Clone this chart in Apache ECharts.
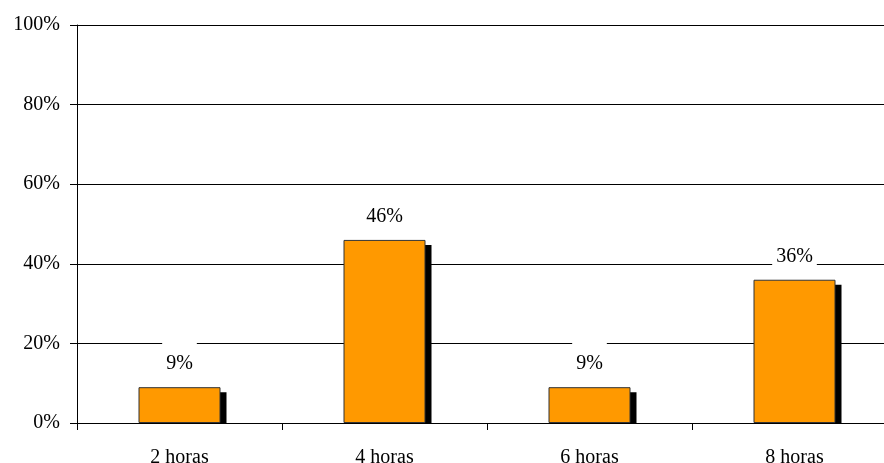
<!DOCTYPE html>
<html>
<head>
<meta charset="utf-8">
<script src="https://cdn.jsdelivr.net/npm/echarts@6/dist/echarts.min.js"></script>
<style>html,body{margin:0;padding:0;background:#fff}#c{width:884px;height:463px}</style>
</head>
<body>
<div id="c"></div>
<script>
var categories = ['2 horas', '4 horas', '6 horas', '8 horas'];
var values = [9, 46, 9, 36];
var yTicks = [0, 20, 40, 60, 80, 100];

var chart = echarts.init(document.getElementById('c'), null, {renderer: 'canvas'});
var font = 'Liberation Serif';
chart.setOption({
  animation: false,
  backgroundColor: '#fff',
  grid: {left: 77, top: 25, width: 820, height: 398, outerBoundsMode: 'none', containLabel: false},
  xAxis: {
    type: 'category',
    data: categories,
    boundaryGap: true,
    axisLine: {show: true, lineStyle: {color: '#000', width: 1}},
    axisTick: {show: true, length: 7, lineStyle: {color: '#000'}},
    axisLabel: {color: '#000', fontFamily: font, fontSize: 20, margin: 25},
    splitLine: {show: false}
  },
  yAxis: {
    type: 'value',
    min: 0, max: 100, interval: 20,
    axisLine: {show: true, lineStyle: {color: '#000', width: 1}},
    axisTick: {show: true, length: 7, inside: false, lineStyle: {color: '#000'}},
    axisLabel: {color: '#000', fontFamily: font, fontSize: 20, margin: 17,
      formatter: function (v) { return yTicks.indexOf(v) >= 0 ? v + '%' : ''; }},
    splitLine: {show: true, lineStyle: {color: '#000', width: 1}}
  },
  series: [
    {
      type: 'custom',
      z: 1,
      data: values.map(function (v, i) { return [i, v]; }),
      renderItem: function (params, api) {
        var top = api.coord([api.value(0), api.value(1)]);
        var base = api.coord([api.value(0), 0]);
        var w = api.size([1, 0])[0] * 0.4;
        return {
          type: 'rect',
          shape: {x: top[0] - w / 2 + 6, y: top[1] + 5, width: w, height: base[1] - top[1] - 5},
          style: {fill: '#000'}
        };
      }
    },
    {
      type: 'bar',
      z: 2,
      data: values,
      barWidth: '40%',
      itemStyle: {color: '#ff9900', borderColor: '#333', borderWidth: 1},
      label: {
        show: true,
        position: 'top',
        distance: 3,
        formatter: '{c}%',
        color: '#000',
        fontFamily: font,
        fontSize: 20,
        backgroundColor: '#fff',
        padding: [16, 4, 10, 4]
      }
    }
  ]
});
</script>
</body>
</html>
